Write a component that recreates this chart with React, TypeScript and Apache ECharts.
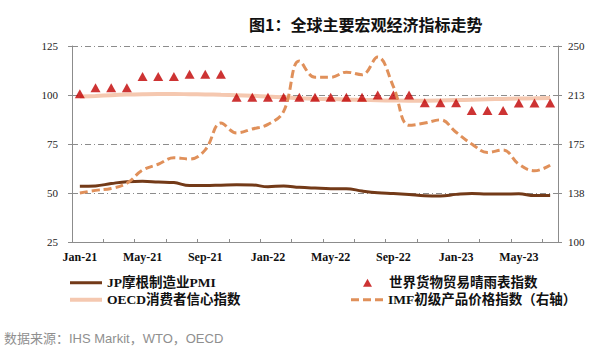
import React, { useEffect, useRef } from "react";
import * as echarts from "echarts";

const months = [
  "Jan-21","Feb-21","Mar-21","Apr-21","May-21","Jun-21","Jul-21","Aug-21","Sep-21","Oct-21","Nov-21","Dec-21",
  "Jan-22","Feb-22","Mar-22","Apr-22","May-22","Jun-22","Jul-22","Aug-22","Sep-22","Oct-22","Nov-22","Dec-22",
  "Jan-23","Feb-23","Mar-23","Apr-23","May-23","Jun-23","Jul-23",
];

const pmi = [
  53.4, 53.6, 54.8, 55.8, 56.0, 55.6, 55.3, 53.8, 53.8, 54.0, 54.2, 54.1,
  53.2, 53.6, 52.9, 52.5, 52.2, 52.2, 51.0, 50.1, 49.7, 49.2, 48.6, 48.5,
  49.3, 49.8, 49.5, 49.5, 49.6, 48.7, 48.7,
];

const wtoBarometer = [
  100.6, 103.7, 103.7, 103.7, 109.4, 109.4, 109.4, 110.6, 110.6, 110.6, 98.9, 98.9,
  98.9, 98.9, 98.9, 98.9, 98.9, 98.9, 98.9, 100.0, 100.0, 100.0, 96.1, 96.1,
  96.1, 92.1, 92.1, 92.1, 95.9, 95.9, 95.9,
];

const oecdCci = [
  99.2, 99.5, 99.9, 100.2, 100.4, 100.5, 100.5, 100.4, 100.3, 100.1, 99.9, 99.6,
  99.2, 98.8, 98.4, 98.1, 97.9, 97.7, 97.5, 97.3, 97.2, 97.1, 97.1, 97.2,
  97.4, 97.6, 97.8, 98.0, 98.2, 98.3, 98.5,
];

const imfCommodity = [
  137.5, 139.5, 141.0, 145.0, 155.0, 159.5, 164.5, 163.5, 170.5, 191.0, 183.5, 186.5,
  190.0, 200.0, 238.5, 226.0, 226.0, 230.0, 228.0, 241.5, 219.0, 189.3, 191.0, 193.5,
  184.0, 175.0, 168.5, 170.5, 159.5, 154.5, 158.7,
];

const leftTicks = { min: 25, max: 125, interval: 25 };
const rightTickValues = [100, 137.5, 175, 212.5, 250];

const names = {
  pmi: "JP摩根制造业PMI",
  wto: "世界货物贸易晴雨表指数",
  oecd: "OECD消费者信心指数",
  imf: "IMF初级产品价格指数（右轴）",
};

const serif = "'Liberation Serif', 'Times New Roman', 'Noto Sans CJK SC', serif";
const legendFont = "'Liberation Serif', 'Noto Sans CJK SC', serif";

const colors = { pmi: "#733a18", oecd: "#f5c8b0", wto: "#c00000", imf: "#e0905a" };

export default function App() {
  const ref = useRef<HTMLDivElement>(null);
  useEffect(() => {
    if (!ref.current) return;
    const chart = echarts.init(ref.current, null, { renderer: "svg" });
    const grey = "#8c8c8c";
    const legendText = { fontFamily: legendFont, fontSize: 13.5, fontWeight: "bold", color: "#111" };
    chart.setOption({
      animation: false,
      backgroundColor: "#ffffff",
      title: {
        text: "图1：全球主要宏观经济指标走势",
        left: 244,
        top: 11,
        textStyle: { fontFamily: "'Noto Sans CJK SC', sans-serif", fontSize: 16, fontWeight: "bold", color: "#111" },
      },
      grid: { left: 72, right: 53, top: 46, bottom: 109, containLabel: false },
      legend: [
        {
          left: 65, top: 271, itemWidth: 32, itemHeight: 3, itemGap: 0, symbolKeepAspect: false,
          data: [{ name: names.pmi, icon: "rect" }], textStyle: legendText,
        },
        {
          left: 65, top: 288, itemWidth: 32, itemHeight: 4, itemGap: 0, symbolKeepAspect: false,
          data: [{ name: names.oecd, icon: "rect" }], textStyle: legendText,
        },
        {
          left: 358, top: 271, itemWidth: 9, itemHeight: 8, itemGap: 0,
          data: [{ name: names.wto, icon: "triangle" }], textStyle: { ...legendText, padding: [0, 0, 0, 12] },
        },
        {
          left: 346, top: 288, itemWidth: 32, itemHeight: 3, itemGap: 0, symbolKeepAspect: false,
          data: [{ name: names.imf, icon: "path://M0 0H8V3H0Z M12 0H20V3H12Z M24 0H32V3H24Z" }],
          textStyle: legendText,
        },
      ],
      graphic: [
        {
          type: "text",
          left: 4,
          top: 332,
          style: {
            text: "数据来源：IHS Markit，WTO，OECD",
            fill: "#8f8f8f",
            font: "13px 'Liberation Sans', 'Noto Sans CJK SC', sans-serif",
          },
        },
      ],
      xAxis: {
        type: "category",
        data: months,
        boundaryGap: true,
        axisLine: { lineStyle: { color: grey, width: 1 } },
        axisTick: { show: true, inside: true, length: 3, interval: 1, lineStyle: { color: grey } },
        axisLabel: { interval: 3, margin: 9, fontFamily: serif, fontSize: 12, fontWeight: "bold", color: "#111" },
        splitLine: { show: false },
      },
      yAxis: [
        {
          type: "value",
          min: leftTicks.min,
          max: leftTicks.max,
          interval: leftTicks.interval,
          axisLine: { show: true, lineStyle: { color: grey } },
          axisTick: { show: true, length: 4, lineStyle: { color: grey } },
          axisLabel: { margin: 14, fontFamily: serif, fontSize: 11, color: "#222" },
          splitLine: { show: true, lineStyle: { color: grey, width: 1, type: [6, 3, 1, 3] } },
        },
        {
          type: "value",
          min: 100,
          max: 250,
          position: "right",
          axisLine: { show: true, lineStyle: { color: grey } },
          axisTick: { show: true, length: 4, customValues: rightTickValues, lineStyle: { color: grey } },
          axisLabel: {
            margin: 10,
            customValues: rightTickValues,
            fontFamily: serif,
            fontSize: 11,
            color: "#222",
            formatter: (v: number) => String(Math.round(v)),
          },
          splitLine: { show: false },
        },
      ],
      series: [
        {
          name: names.oecd,
          type: "line",
          data: oecdCci,
          yAxisIndex: 0,
          smooth: 0.4,
          symbol: "none",
          z: 2,
          lineStyle: { color: colors.oecd, width: 4 },
          itemStyle: { color: colors.oecd },
        },
        {
          name: names.pmi,
          type: "line",
          data: pmi,
          yAxisIndex: 0,
          smooth: 0.4,
          symbol: "none",
          z: 3,
          lineStyle: { color: colors.pmi, width: 3 },
          itemStyle: { color: colors.pmi },
        },
        {
          name: names.wto,
          type: "scatter",
          data: wtoBarometer,
          yAxisIndex: 0,
          symbol: "triangle",
          symbolSize: [10, 9],
          z: 4,
          itemStyle: { color: colors.wto },
        },
        {
          name: names.imf,
          type: "line",
          data: imfCommodity,
          yAxisIndex: 1,
          smooth: 0.4,
          symbol: "none",
          z: 5,
          lineStyle: { color: colors.imf, width: 3, type: [8, 4] },
          itemStyle: { color: colors.imf },
        },
      ],
    });
    return () => chart.dispose();
  }, []);
  return <div ref={ref} style={{ position: "absolute", left: 0, top: 0, width: 611, height: 351 }} />;
}
